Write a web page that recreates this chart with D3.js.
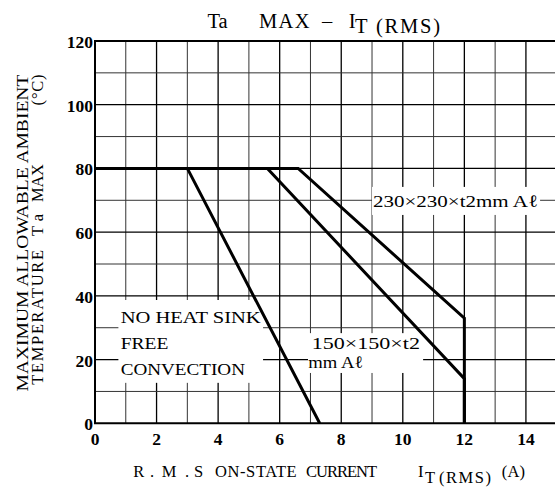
<!DOCTYPE html>
<html>
<head>
<meta charset="utf-8">
<script src="https://cdnjs.cloudflare.com/ajax/libs/d3/7.8.5/d3.min.js"></script>
<style>
  body { margin: 0; background: #fff; }
  svg { display: block; font-family: "Liberation Serif", "Times New Roman", serif; }
  .tick-label { font-family: "Liberation Serif", serif; font-size: 17.5px; font-weight: bold; }
</style>
</head>
<body>
<div id="chart"></div>
<script>
// axis ticks
var xTicks = [0, 2, 4, 6, 8, 10, 12, 14];
var yTicks = [0, 20, 40, 60, 80, 100, 120];

// derating curves, [I_T(RMS) (A), Ta max (°C)]
var noHeatSink = [[0, 80], [3, 80], [7.3, 0]];
var sink150 = [[0, 80], [5.6, 80], [12, 14], [12, 0]];
var sink230 = [[0, 80], [6.6, 80], [12, 33], [12, 0]];

// in-plot labels
var labelNoSink = ['NO HEAT SINK', 'FREE', 'CONVECTION'];
var label150 = ['150×150×t2', 'mm Aℓ'];
var label230 = ['230×230×t2mm Aℓ'];

var width = 555,
  height = 491;

var x = d3.scaleLinear().domain([0, 15]).range([95, 556.7]);
var y = d3.scaleLinear().domain([0, 120]).range([423.3, 41]);

var svg = d3.select('#chart').append('svg')
  .attr('width', width)
  .attr('height', height);

var g = svg.append('g');

// grid
g.selectAll('.vgrid')
  .data(d3.range(1, 16))
  .enter().append('line')
  .attr('class', 'vgrid')
  .attr('x1', function(d) { return x(d); })
  .attr('x2', function(d) { return x(d); })
  .attr('y1', y(120))
  .attr('y2', y(0))
  .style('stroke', function(d) { return d % 2 ? '#333' : '#000'; })
  .style('stroke-width', function(d) { return d % 2 ? 1 : 1.3; });

g.selectAll('.hgrid')
  .data(d3.range(10, 120, 10))
  .enter().append('line')
  .attr('class', 'hgrid')
  .attr('x1', x(0))
  .attr('x2', x(15))
  .attr('y1', function(d) { return y(d); })
  .attr('y2', function(d) { return y(d); })
  .style('stroke', function(d) { return d % 20 ? '#333' : '#000'; })
  .style('stroke-width', function(d) { return d % 20 ? 1 : 1.3; });

// white boxes behind the labels
var boxes = [
  [0.76, 5.46, 38.7, 12.7],
  [6.92, 10.66, 28.3, 15.8],
  [9.0, 14.46, 74.2, 65.4]
];
g.selectAll('.box')
  .data(boxes)
  .enter().append('rect')
  .attr('class', 'box')
  .attr('x', function(d) { return x(d[0]); })
  .attr('y', function(d) { return y(d[2]); })
  .attr('width', function(d) { return x(d[1]) - x(d[0]); })
  .attr('height', function(d) { return y(d[3]) - y(d[2]); })
  .style('fill', '#fff');

// frame
g.append('path')
  .attr('d', 'M' + x(15) + ',' + y(120) + 'H' + x(0) + 'V' + y(0) + 'H' + x(15))
  .style('fill', 'none')
  .style('stroke', '#000')
  .style('stroke-width', 2);

// curves
var line = d3.line()
  .x(function(d) { return x(d[0]); })
  .y(function(d) { return y(d[1]); });

g.selectAll('.curve')
  .data([noHeatSink, sink150, sink230])
  .enter().append('path')
  .attr('class', 'curve')
  .attr('d', line)
  .style('fill', 'none')
  .style('stroke', '#000')
  .style('stroke-width', 3)
  .style('stroke-linejoin', 'miter');

// tick labels
svg.selectAll('.ytick')
  .data(yTicks)
  .enter().append('text')
  .attr('class', 'tick-label')
  .attr('x', 93)
  .attr('y', function(d) { return y(d) + 7; })
  .attr('text-anchor', 'end')
  .text(function(d) { return d; });

svg.selectAll('.xtick')
  .data(xTicks)
  .enter().append('text')
  .attr('class', 'tick-label')
  .attr('x', function(d) { return x(d); })
  .attr('y', 445)
  .attr('text-anchor', 'middle')
  .text(function(d) { return d; });

// in-plot labels: text, left x, baseline, fitted width
function addLines(lines, xs, ys, lens) {
  svg.append('text')
    .style('font-size', '17.5px')
    .selectAll('tspan')
    .data(lines)
    .enter().append('tspan')
    .attr('x', function(d, i) { return xs[i]; })
    .attr('y', function(d, i) { return ys[i]; })
    .attr('textLength', function(d, i) { return lens[i]; })
    .attr('lengthAdjust', 'spacingAndGlyphs')
    .text(function(d) { return d; });
}
addLines(labelNoSink, [120.7, 120.7, 120.7], [323.3, 349, 375], [140, 47.7, 124.3]);
addLines(label150, [311.7, 308.3], [349, 368.3], [108.3, 55]);
addLines(label230, [373], [206.7], [165]);

// title
var title = svg.append('text').style('font-size', '20.5px').attr('y', 27.8);
title.append('tspan').attr('x', 207.5).text('Ta');
title.append('tspan').attr('x', 259).attr('textLength', 50.6).text('MAX');
title.append('tspan').attr('x', 322).text('–');
title.append('tspan').attr('x', 348.8).text('I');
title.append('tspan').attr('x', 355).attr('y', 32.7).text('T');
title.append('tspan').attr('x', 376).attr('textLength', 64).text('(RMS)');

// x axis title
var xTitle = svg.append('text').style('font-size', '16.5px').attr('y', 476.7);
xTitle.append('tspan').attr('x', 133.3).text('R');
xTitle.append('tspan').attr('x', 150).text('.');
xTitle.append('tspan').attr('x', 161.7).text('M');
xTitle.append('tspan').attr('x', 185).text('.');
xTitle.append('tspan').attr('x', 194).text('S');
xTitle.append('tspan').attr('x', 215).attr('textLength', 81.7).text('ON-STATE');
xTitle.append('tspan').attr('x', 306).attr('textLength', 71).text('CURRENT');
xTitle.append('tspan').attr('x', 418).text('I');
xTitle.append('tspan').attr('x', 425).attr('y', 482.7).text('T');
xTitle.append('tspan').attr('x', 439).attr('textLength', 52).text('(RMS)');
xTitle.append('tspan').attr('x', 501.7).attr('y', 476.7).attr('textLength', 23.3).text('(A)');

// y axis title (rotated, reads bottom to top)
var yTitle = svg.append('g').attr('transform', 'rotate(-90)');
yTitle.append('text')
  .attr('x', -391.6)
  .attr('y', 27.6)
  .attr('textLength', 317)
  .attr('lengthAdjust', 'spacingAndGlyphs')
  .style('font-size', '16.5px')
  .text('MAXIMUM ALLOWABLE AMBIENT');

var yTitle2 = yTitle.append('text').attr('y', 43).style('font-size', '16.5px');
yTitle2.append('tspan').attr('x', -384.7).attr('textLength', 134.7).text('TEMPERATURE');
yTitle2.append('tspan').attr('x', -236).attr('textLength', 22).text('Ta');
yTitle2.append('tspan').attr('x', -202).attr('textLength', 38).text('MAX');
yTitle2.append('tspan').attr('x', -105.4).attr('textLength', 31).text('(°C)');
</script>
</body>
</html>
